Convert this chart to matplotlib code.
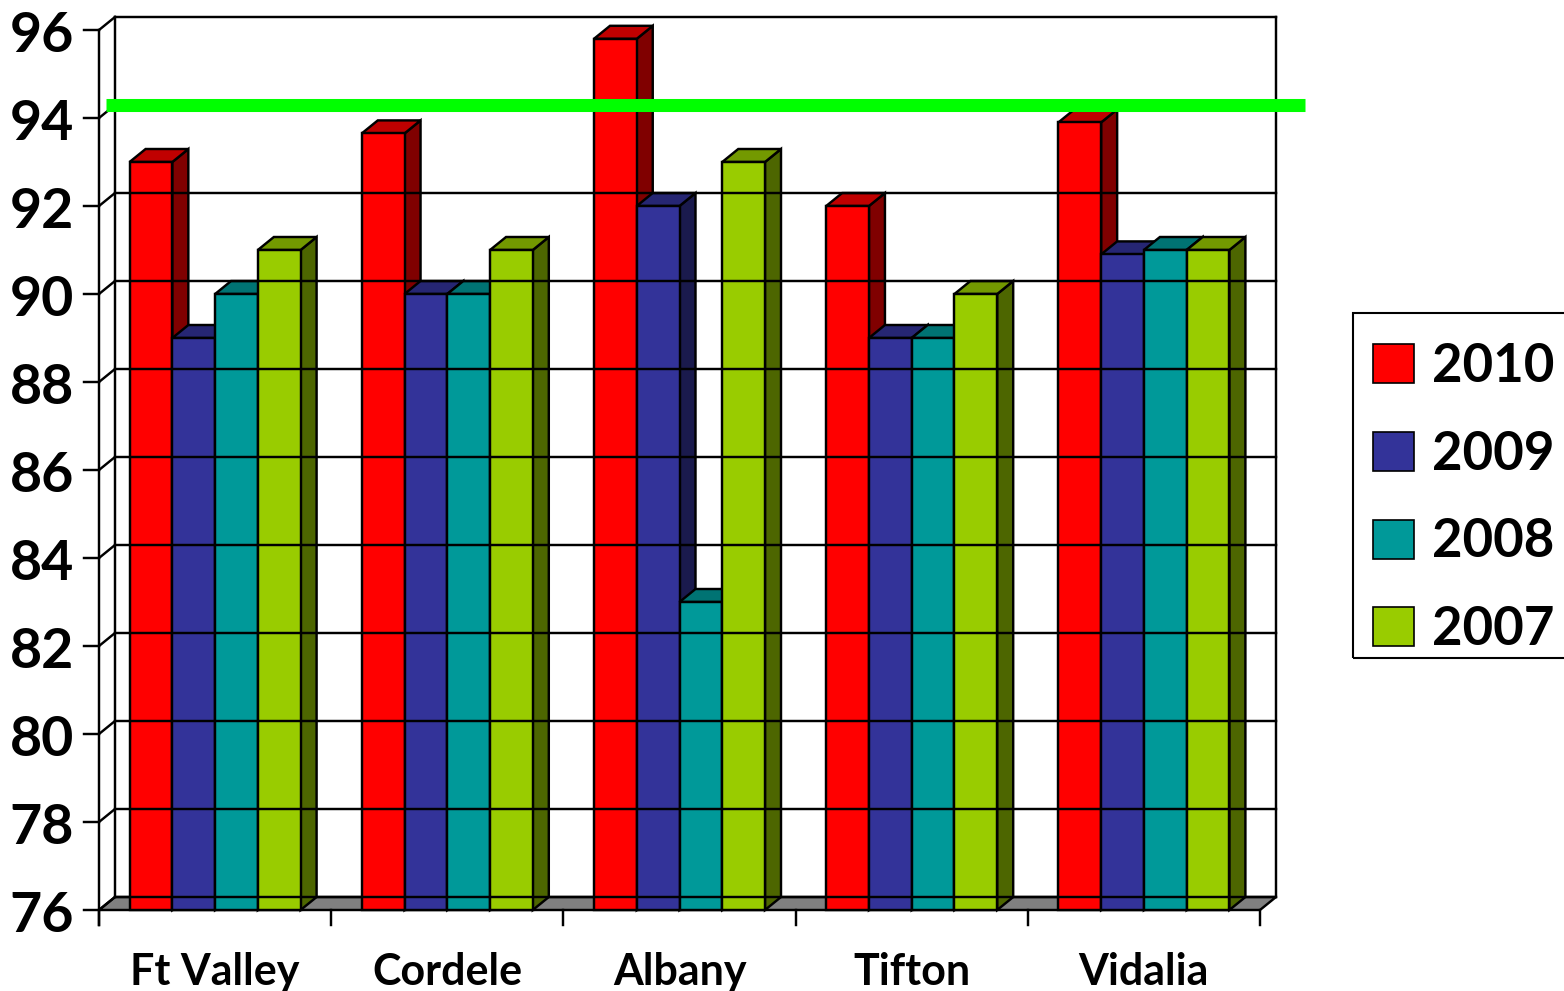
import matplotlib
matplotlib.use("Agg")
import matplotlib.pyplot as plt
from matplotlib.patches import Polygon, Rectangle, Patch

# Scores by campus and year
campuses = ["Ft Valley", "Cordele", "Albany", "Tifton", "Vidalia"]
years = ["2010", "2009", "2008", "2007"]
scores_2010 = [93.0, 93.65, 95.8, 92.0, 93.9]
scores_2009 = [89.0, 90.0, 92.0, 89.0, 90.9]
scores_2008 = [90.0, 90.0, 83.0, 89.0, 91.0]
scores_2007 = [91.0, 91.0, 93.0, 90.0, 91.0]
target = 94
y_ticks = [76, 78, 80, 82, 84, 86, 88, 90, 92, 94, 96]

series = [scores_2010, scores_2009, scores_2008, scores_2007]
# front, top, side shades for each year
shades = [
    ("#FF0000", "#C00000", "#800000"),
    ("#333399", "#262673", "#1A1A4D"),
    ("#009999", "#007373", "#004D4D"),
    ("#99CC00", "#739900", "#4D6600"),
]

plt.rcParams["font.family"] = ["Lato", "DejaVu Sans"]
plt.rcParams["font.weight"] = "bold"

W, H = 1564, 991
fig = plt.figure(figsize=(W / 100, H / 100), dpi=100)
left, right, bottom, top = 99, 1260, 910, 30
ax = fig.add_axes([left / W, 1 - bottom / H, (right - left) / W, (bottom - top) / H])
ymin, ymax = y_ticks[0], y_ticks[-1]
n = len(campuses)
ax.set_xlim(0, n)
ax.set_ylim(ymin, ymax)
ax.axis("off")

# pixel -> data conversions for the fake 3D depth
px_x = (right - left) / n
px_y = (bottom - top) / (ymax - ymin)
dx, dy = 16 / px_x, 13 / px_y
lw = 1.75
k = dict(color="black", lw=lw, clip_on=False, solid_capstyle="projecting")

# back wall and side wall
for v in y_ticks:
    ax.plot([dx, n + dx], [v + dy, v + dy], **k)
    ax.plot([0, dx], [v, v + dy], **k)
    ax.plot([-15 / px_x, 0], [v, v], **k)
ax.plot([dx, dx], [ymin + dy, ymax + dy], **k)
ax.plot([n + dx, n + dx], [ymin + dy, ymax + dy], **k)
ax.plot([0, 0], [ymin - 15 / px_y, ymax], **k)
for i in range(n + 1):
    ax.plot([i, i], [ymin, ymin - 15 / px_y], **k)

# floor
ax.add_patch(Polygon([(0, ymin), (n, ymin), (n + dx, ymin + dy), (dx, ymin + dy)],
                     closed=True, facecolor="#808080", edgecolor="black", lw=lw,
                     clip_on=False))

# bars
bw = 42.75 / px_x
for i in range(n):
    x_start = i + (1 - len(series) * bw) / 2
    for j, vals in enumerate(series):
        v = vals[i]
        front, topc, side = shades[j]
        x0 = x_start + j * bw
        x1 = x0 + bw
        ax.add_patch(Polygon([(x1, ymin), (x1 + dx, ymin + dy), (x1 + dx, v + dy), (x1, v)],
                             closed=True, facecolor=side, edgecolor="black", lw=lw,
                             clip_on=False))
        ax.add_patch(Polygon([(x0, v), (x1, v), (x1 + dx, v + dy), (x0 + dx, v + dy)],
                             closed=True, facecolor=topc, edgecolor="black", lw=lw,
                             clip_on=False))
        ax.add_patch(Rectangle((x0, ymin), bw, v - ymin, facecolor=front,
                               edgecolor="black", lw=lw, clip_on=False))

# target line on the back wall
ax.plot([7 / px_x, 1206 / px_x], [target + dy, target + dy], color="#00FF00", lw=9.4,
        solid_capstyle="butt", clip_on=False, zorder=5)

# axis labels
for v in y_ticks:
    ax.annotate(str(v), (0, v), xytext=(-25, -22), textcoords="offset pixels",
                ha="right", va="baseline", fontsize=40, fontweight="bold",
                annotation_clip=False)
for i, name in enumerate(campuses):
    ax.annotate(name, (i + 0.5, ymin), xytext=(0, -75), textcoords="offset pixels",
                ha="center", va="baseline", fontsize=31, fontweight="bold",
                annotation_clip=False)

# legend entries, with the box drawn separately
handles = [Patch(facecolor=s[0], edgecolor="black", lw=1.2) for s in shades]
fig.legend(handles, years, loc="upper left",
           bbox_to_anchor=(1347 / W, 1 - 316 / H), borderaxespad=0,
           prop={"weight": "bold", "size": 38},
           handlelength=0.76, handleheight=0.76, handletextpad=0.36,
           labelspacing=0.73, borderpad=0.5, frameon=False)
fig.add_artist(Rectangle((1353 / W, 1 - 658 / H), 220 / W, 345 / H,
                         transform=fig.transFigure, fill=False,
                         edgecolor="black", lw=1.5, clip_on=False))

fig.savefig("out.png", dpi=100)
